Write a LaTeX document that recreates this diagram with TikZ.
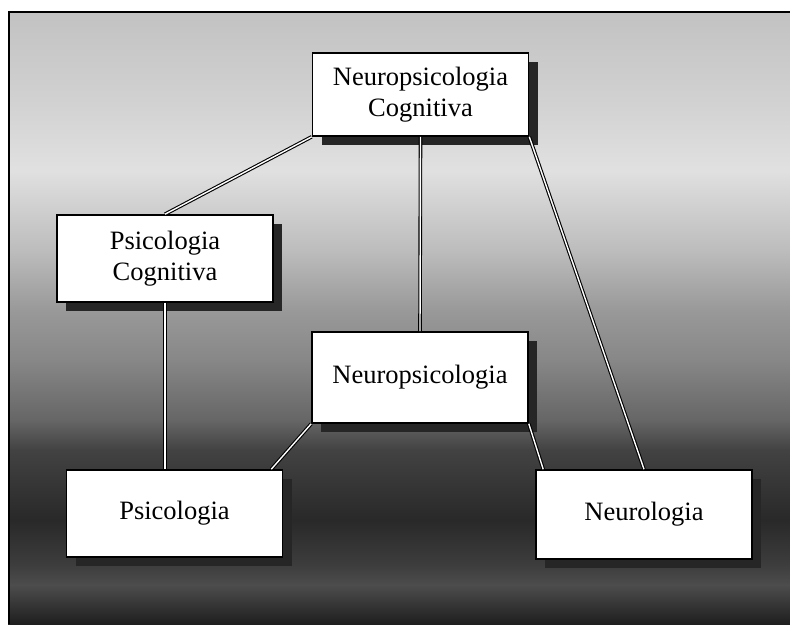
\documentclass[tikz,border=0pt]{standalone}
\usepackage{fontspec}
\setmainfont{Liberation Serif}
\usetikzlibrary{shadows,calc}

\tikzset{
  box/.style={draw=black, line width=1.6pt, fill=white, align=center,
    inner sep=0pt, minimum width=216pt,
    font=\fontsize{26.5}{31}\selectfont,
    drop shadow={shadow xshift=9pt, shadow yshift=-9pt, opacity=1, fill=black!85}},
  link/.style={draw=black, line width=1.1pt, double=white, double distance=1.4pt},
  band/.style={draw=none}
}

\begin{document}
\begin{tikzpicture}[x=1pt, y=-1pt]
\useasboundingbox (0,0) rectangle (790,624);

% graded background, light at the top and dark at the bottom
\fill[band, top color=black!24, bottom color=black!18] (8,11) rectangle (790,100);
\fill[band, top color=black!18, bottom color=black!12] (8,100) rectangle (790,170);
\fill[band, top color=black!12, bottom color=black!26] (8,170) rectangle (790,250);
\fill[band, top color=black!26, bottom color=black!40] (8,250) rectangle (790,310);
\fill[band, top color=black!40, bottom color=black!47] (8,310) rectangle (790,360);
\fill[band, top color=black!47, bottom color=black!60] (8,360) rectangle (790,420);
\fill[band, top color=black!60, bottom color=black!74] (8,420) rectangle (790,450);
\fill[band, top color=black!74, bottom color=black!84] (8,450) rectangle (790,520);
\fill[band, top color=black!84, bottom color=black!76] (8,520) rectangle (790,565);
\fill[band, top color=black!76, bottom color=black!70] (8,565) rectangle (790,585);
\fill[band, top color=black!70, bottom color=black!88] (8,585) rectangle (790,624);

% frame
\draw[line width=2pt] (9,624) -- (9,12) -- (790,12);

% boxes
\node[box, minimum height=83pt] (top) at (420.5,94.5) {Neuropsicologia\\Cognitiva};
\node[box, minimum height=87pt] (pc) at (165,258.5) {Psicologia\\Cognitiva};
\node[box, minimum height=91pt] (neuro) at (420,377.5) {Neuropsicologia};
\node[box, minimum height=87pt] (psi) at (174.5,513.5) {Psicologia};
\node[box, minimum height=89pt] (nl) at (644,514.5) {Neurologia};

% connectors
\draw[link] (top.south west) -- (pc.north);
\draw[link] (top.south) -- (neuro.north);
\draw[link] (top.south east) -- (nl.north);
\draw[link] (pc.south) -- (pc.south |- psi.north);
\draw[link] (neuro.south west) -- ($(psi.north east)+(-12,0)$);
\draw[link] (neuro.south east) -- ($(nl.north west)+(8,0)$);
\end{tikzpicture}
\end{document}
